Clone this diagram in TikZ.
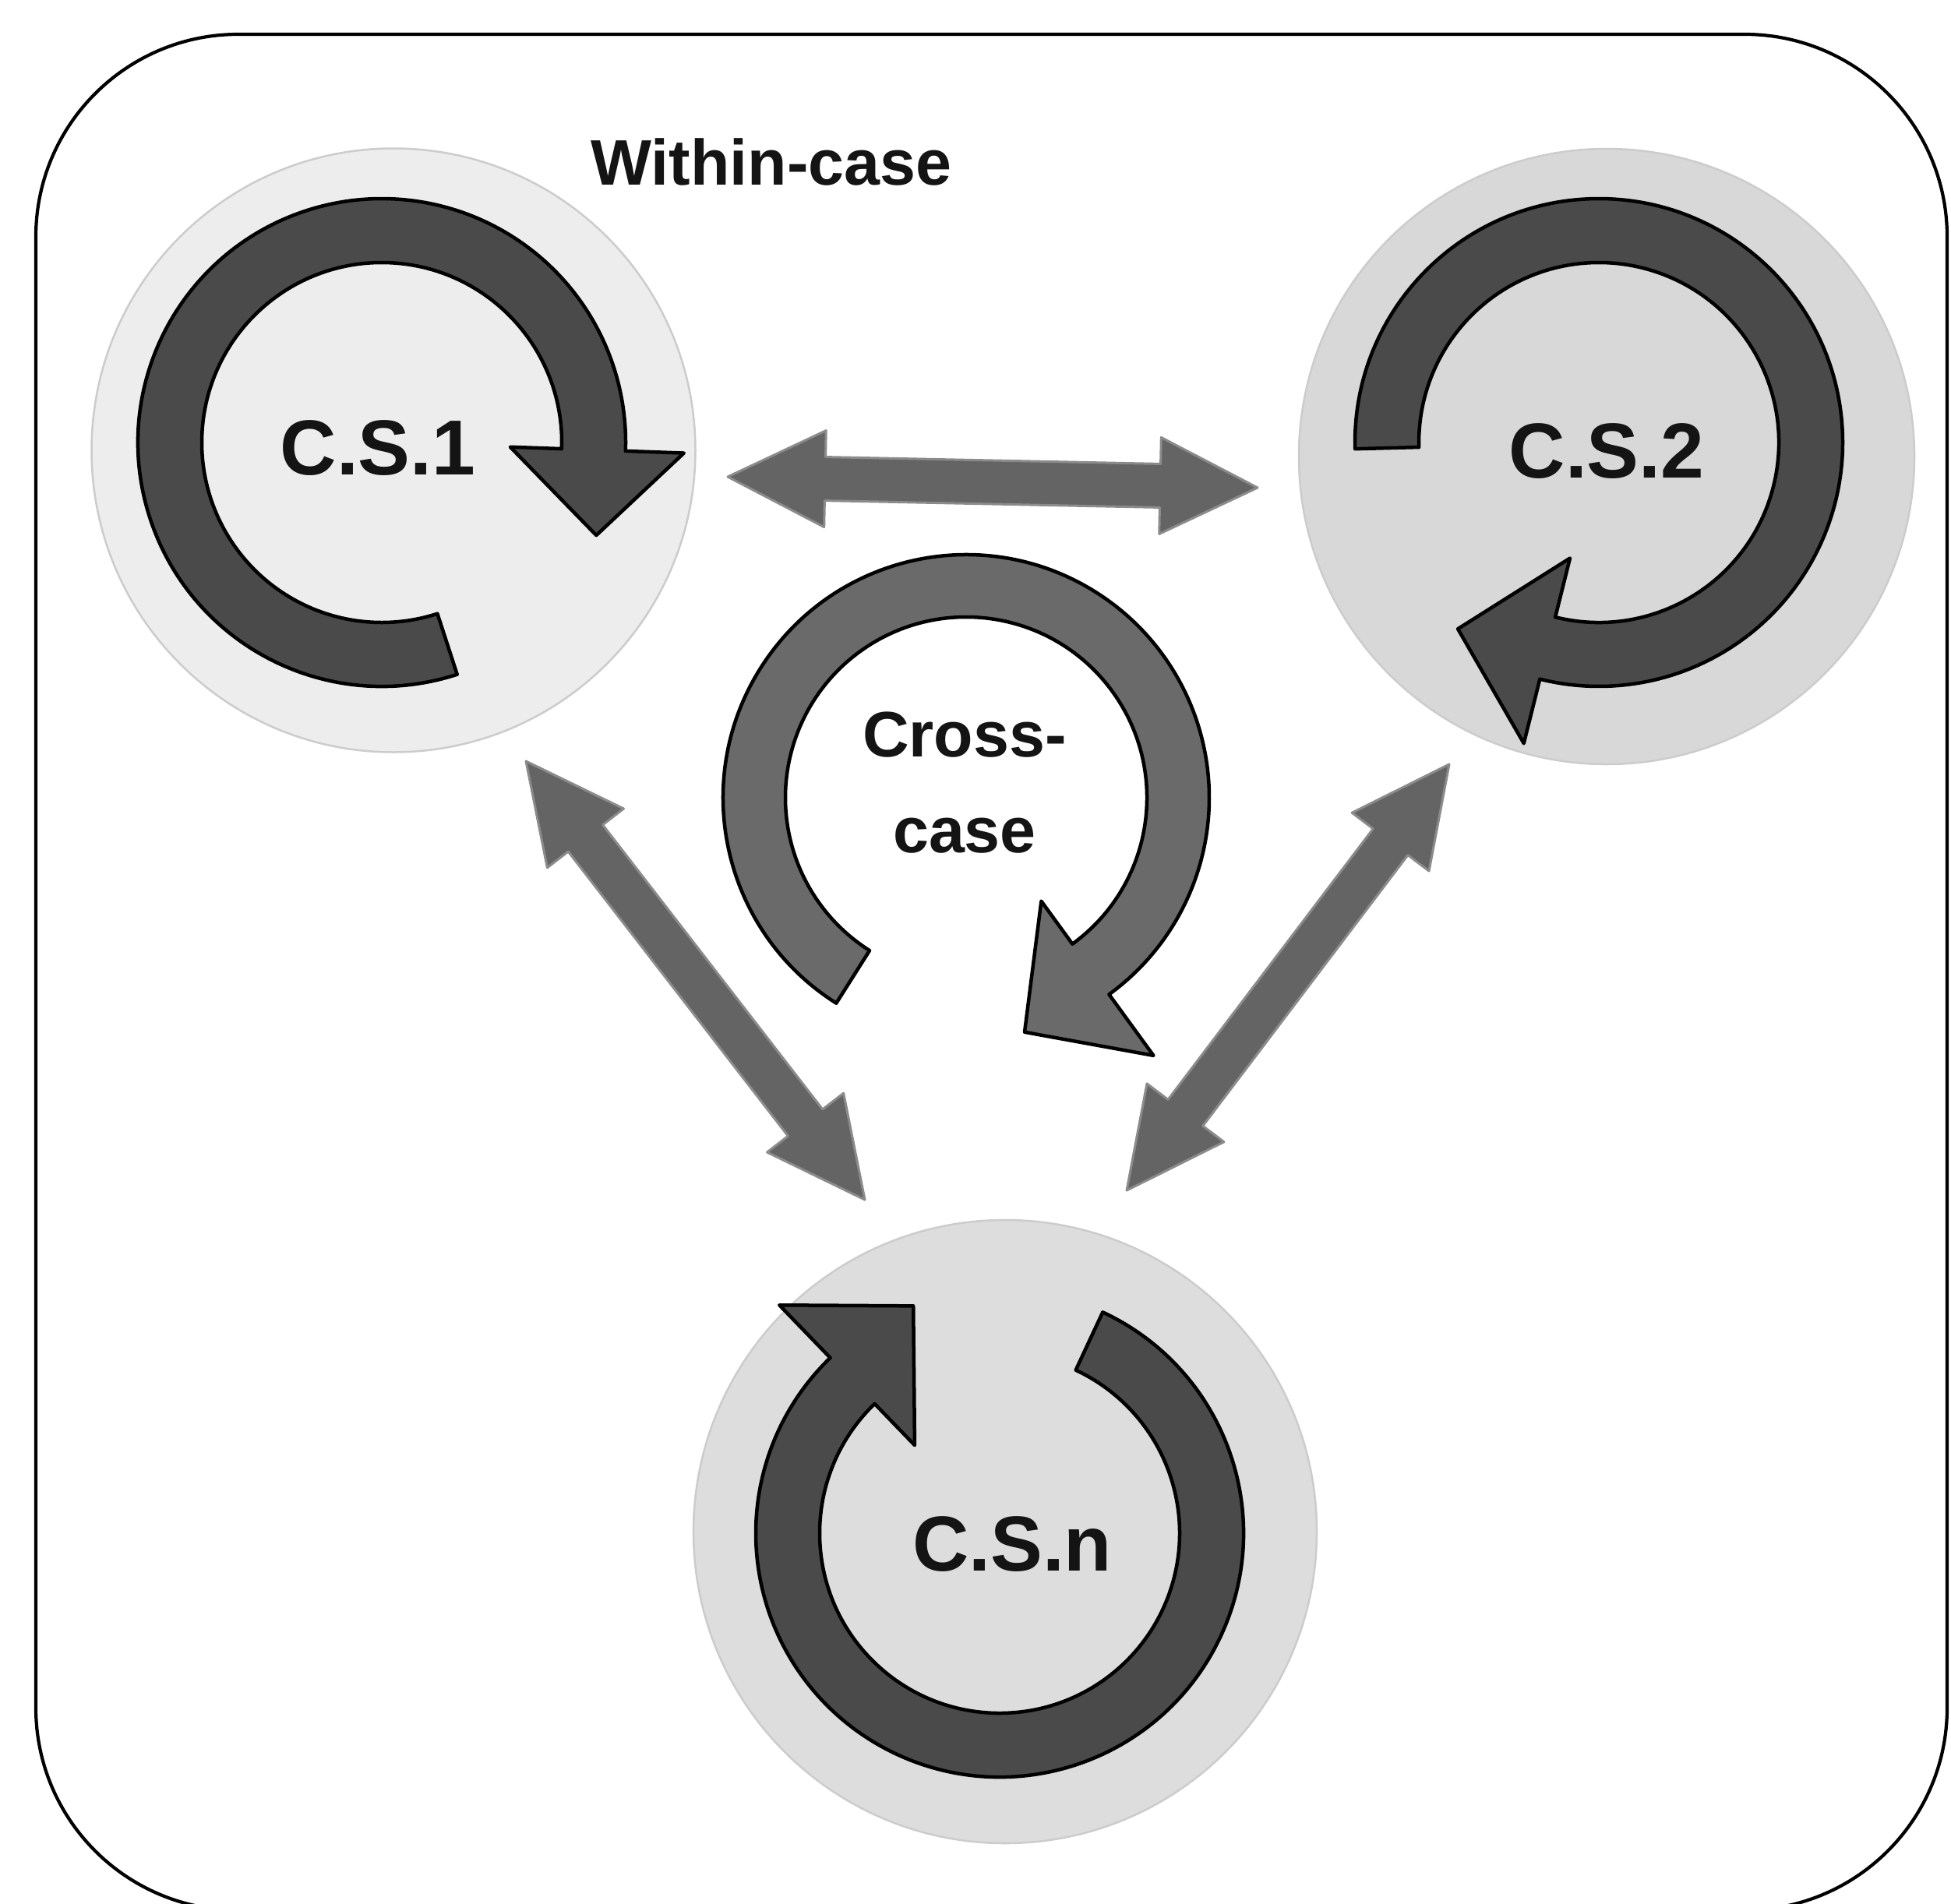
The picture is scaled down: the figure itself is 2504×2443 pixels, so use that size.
\documentclass[tikz,border=0pt]{standalone}
\usepackage{fontspec}
\setmainfont{Liberation Sans}
\usetikzlibrary{calc}
\definecolor{discA}{HTML}{EDEDED}
\definecolor{discB}{HTML}{D8D8D8}
\definecolor{discC}{HTML}{DDDDDD}
\definecolor{loopfill}{HTML}{4A4A4A}
\definecolor{crossfill}{HTML}{6A6A6A}
\definecolor{linkgray}{HTML}{646464}
% fat double-headed link between two named points
\def\arwlen{12.5mm}\def\arwhalf{6.2mm}\def\arwshaft{2.8mm}
\newcommand\linkarrow[2]{%
  \fill[linkarrow] (#1)
    -- ($(#1)!\arwlen!(#2)!\arwhalf!90:(#2)$)
    -- ($(#1)!\arwlen!(#2)!\arwshaft!90:(#2)$)
    -- ($(#2)!\arwlen!(#1)!\arwshaft!-90:(#1)$)
    -- ($(#2)!\arwlen!(#1)!\arwhalf!-90:(#1)$)
    -- (#2)
    -- ($(#2)!\arwlen!(#1)!\arwhalf!90:(#1)$)
    -- ($(#2)!\arwlen!(#1)!\arwshaft!90:(#1)$)
    -- ($(#1)!\arwlen!(#2)!\arwshaft!-90:(#2)$)
    -- ($(#1)!\arwlen!(#2)!\arwhalf!-90:(#2)$)
    -- cycle;}
% circular arrow: #1 centre, #2 tail angle, #3 head angle, #4 outer r, #5 inner r,
% #6 head outer r, #7 head inner r, #8 tip angle, #9 tip r (all radii in mm)
\newcommand\looparrow[9]{%
  ([shift={(#2:#4mm)}]#1) arc[start angle=#2, end angle=#3, radius=#4mm]
  -- ([shift={(#3:#6mm)}]#1) -- ([shift={(#8:#9mm)}]#1)
  -- ([shift={(#3:#7mm)}]#1) -- ([shift={(#3:#5mm)}]#1)
  arc[start angle=#3, end angle=#2, radius=#5mm] -- cycle}
\begin{document}
\begin{tikzpicture}[x=0.1mm, y=0.1mm,
  disc/.style={circle, inner sep=0pt, minimum size=#1, draw=black!20, line width=0.25mm},
  ringarrow/.style={fill=#1, draw=black, line width=0.45mm, line join=round},
  linkarrow/.style={fill=linkgray, draw=linkgray!75, line width=0.3mm, line join=round},
  caselabel/.style={font=\bfseries\fontsize{28.5}{30}\selectfont, inner sep=0pt, text=black!92},
  sidelabel/.style={font=\bfseries\fontsize{23.5}{35}\selectfont, inner sep=0pt, text=black!92, align=center}]
\useasboundingbox (0,0) rectangle (2504,-2443);
\clip (0,0) rectangle (2504,-2443);
\fill[white] (0,0) rectangle (2504,-2443);

% outer frame
\draw[line width=0.42mm, rounded corners=26mm] (46,-44) rectangle (2499,-2452);

% case discs
\node[disc=77.5mm, fill=discA] (cs1) at (505,-578) {};
\node[disc=79mm, fill=discB] (cs2) at (2062,-586) {};
\node[disc=80mm, fill=discC] (csn) at (1290,-1966) {};

% centres of the circular arrows
\coordinate (r1) at (490,-568);
\coordinate (r2) at (2052,-568);
\coordinate (rn) at (1283,-1968);
\coordinate (rx) at (1240,-1024);

% within-case loops
\draw[ringarrow=loopfill] \looparrow{r1}{288}{-2}{31.3}{23.1}{38.8}{16.5}{-23.4}{30.0};
\draw[ringarrow=loopfill] \looparrow{r2}{181.5}{-104}{31.3}{23.1}{39.8}{15.3}{-127.1}{30.0};
\draw[ringarrow=loopfill] \looparrow{rn}{65}{-226}{31.3}{23.1}{40.7}{15.7}{-249.2}{31.2};

% cross-case loop
\draw[ringarrow=crossfill] \looparrow{rx}{237.7}{-54}{31.2}{23.2}{40.9}{16.4}{-76}{31.0};

% links between the cases
\coordinate (h1) at (934,-612);
\coordinate (h2) at (1614,-626);
\coordinate (l1) at (675,-977);
\coordinate (l2) at (1110,-1540);
\coordinate (q1) at (1860,-981);
\coordinate (q2) at (1446,-1528);
\linkarrow{h1}{h2}
\linkarrow{l1}{l2}
\linkarrow{q1}{q2}

% labels
\node[caselabel] (t1) at (485,-575) {C.S.1};
\node[caselabel] (t2) at (2062,-579) {C.S.2};
\node[caselabel] (tn) at (1299,-1982) {C.S.n};
\node[sidelabel] (within) at (990,-208) {Within-case};
\node[sidelabel] (cross) at (1238,-1005) {Cross-\\case};
\end{tikzpicture}
\end{document}
